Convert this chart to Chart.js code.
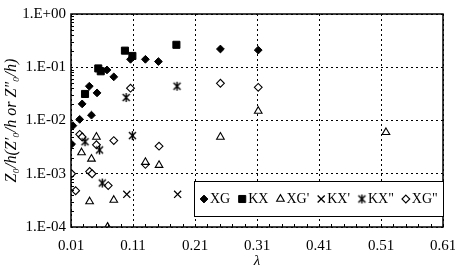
<!DOCTYPE html>
<html><head><meta charset="utf-8">
<script src="https://cdn.jsdelivr.net/npm/chart.js@4/dist/chart.umd.min.js"></script>
<style>html,body{margin:0;padding:0;background:#fff;}#wrap{width:455px;height:274px;}</style>
</head><body><div id="wrap"><canvas id="c" width="455" height="274"></canvas></div>
<script>
// ---- data ----
const xgX  = [0.011, 0.013, 0.024, 0.028, 0.0395, 0.043, 0.052, 0.068, 0.079, 0.106, 0.130, 0.151, 0.251, 0.312];
const xgY  = [3.6e-3, 8.0e-3, 1.05e-2, 2.05e-2, 4.4e-2, 1.26e-2, 3.3e-2, 8.9e-2, 6.6e-2, 0.141, 0.141, 0.128, 0.22, 0.21];
const kxX  = [0.0326, 0.054, 0.058, 0.097, 0.109, 0.180];
const kxY  = [3.15e-2, 9.5e-2, 8.4e-2, 0.205, 0.163, 0.264];
const xg1X = [0.027, 0.043, 0.051, 0.040, 0.079, 0.069, 0.130, 0.152, 0.251, 0.312, 0.518];
const xg1Y = [2.5e-3, 1.9e-3, 4.9e-3, 3.0e-4, 3.2e-4, 1.0e-4, 1.65e-3, 1.45e-3, 4.9e-3, 1.5e-2, 6.0e-3];
const kx1X = [0.100, 0.182];
const kx1Y = [4.1e-4, 4.1e-4];
const kx2X = [0.0326, 0.056, 0.0605, 0.099, 0.109, 0.181];
const kx2Y = [4.0e-3, 2.8e-3, 6.7e-4, 2.7e-2, 5.2e-3, 4.4e-2];
const xg2X = [0.011, 0.0175, 0.024, 0.028, 0.040, 0.044, 0.051, 0.070, 0.079, 0.106, 0.130, 0.152, 0.251, 0.312];
const xg2Y = [1.0e-3, 4.8e-4, 5.5e-3, 4.9e-3, 1.1e-3, 1.0e-3, 3.5e-3, 6.0e-4, 4.2e-3, 4.05e-2, 1.5e-3, 3.3e-3, 5.0e-2, 4.2e-2];
const seriesNames = ["XG", "KX", "XG'", "KX'", "KX\"", "XG\""];
const xTicks = [0.01, 0.11, 0.21, 0.31, 0.41, 0.51, 0.61];
const yTicks = [1e-4, 1e-3, 1e-2, 1e-1, 1];
const yTickLabels = ["1.E-04", "1.E-03", "1.E-02", "1.E-01", "1.E+00"];

const pts = (xs, ys) => xs.map((x, i) => ({x: x, y: ys[i]}));

// six-armed asterisk marker
function makeAsterisk(size) {
  const c = document.createElement('canvas');
  c.width = size; c.height = size;
  const g = c.getContext('2d');
  const m = size / 2, r = size / 2 - 1;
  g.strokeStyle = '#000'; g.lineWidth = 1.4;
  g.beginPath();
  g.moveTo(m, m - r); g.lineTo(m, m + r);
  const d = r * 0.78;
  g.moveTo(m - d, m - d); g.lineTo(m + d, m + d);
  g.moveTo(m + d, m - d); g.lineTo(m - d, m + d);
  g.stroke();
  return c;
}
const asterisk = makeAsterisk(11);

const SERIF = "'Liberation Serif', 'Times New Roman', serif";

const styles = [
  {pointStyle: 'rectRot', radius: 3.9, bg: '#000', bw: 1},
  {pointStyle: 'rect', radius: 5, bg: '#000', bw: 1},
  {pointStyle: 'triangle', radius: 4.4, bg: '#fff', bw: 1.1},
  {pointStyle: 'crossRot', radius: 5, bg: '#fff', bw: 1.3},
  {pointStyle: asterisk, radius: 5, bg: '#fff', bw: 1},
  {pointStyle: 'rectRot', radius: 3.9, bg: '#fff', bw: 1.1},
];
const dataSets = [pts(xgX, xgY), pts(kxX, kxY), pts(xg1X, xg1Y), pts(kx1X, kx1Y), pts(kx2X, kx2Y), pts(xg2X, xg2Y)];

const datasets = dataSets.map((d, i) => ({
  label: seriesNames[i], data: d,
  pointStyle: styles[i].pointStyle, pointRadius: styles[i].radius, pointHoverRadius: styles[i].radius,
  pointBackgroundColor: styles[i].bg, pointBorderColor: '#000', pointBorderWidth: styles[i].bw,
  showLine: false, clip: 0
}));

function drawMarker(ctx, i, x, y) {
  const s = styles[i];
  ctx.save();
  ctx.fillStyle = s.bg; ctx.strokeStyle = '#000'; ctx.lineWidth = s.bw;
  const r = s.radius;
  ctx.beginPath();
  if (i === 0 || i === 5) {
    ctx.moveTo(x, y - r); ctx.lineTo(x + r, y); ctx.lineTo(x, y + r); ctx.lineTo(x - r, y); ctx.closePath();
    ctx.fill(); ctx.stroke();
  } else if (i === 1) {
    const h = r * Math.SQRT1_2;
    ctx.rect(x - h, y - h, 2 * h, 2 * h); ctx.fill(); ctx.stroke();
  } else if (i === 2) {
    const w = r * Math.sin(Math.PI / 3), dy = r * 0.5;
    ctx.moveTo(x, y - r); ctx.lineTo(x + w, y + dy); ctx.lineTo(x - w, y + dy); ctx.closePath();
    ctx.fill(); ctx.stroke();
  } else if (i === 3) {
    const d = r * Math.SQRT1_2;
    ctx.moveTo(x - d, y - d); ctx.lineTo(x + d, y + d);
    ctx.moveTo(x + d, y - d); ctx.lineTo(x - d, y + d); ctx.stroke();
  } else {
    ctx.drawImage(asterisk, x - asterisk.width / 2, y - asterisk.height / 2);
  }
  ctx.restore();
}

const decor = {
  id: 'decor',
  afterDraw(chart) {
    const {ctx, chartArea: a, scales} = chart;
    const xs = scales.x, ys = scales.y;
    ctx.save();
    // minor ticks
    ctx.strokeStyle = '#000'; ctx.lineWidth = 1;
    ctx.beginPath();
    for (let k = 0; k <= 30; k++) {
      const v = 0.01 + k * 0.02;
      const px = Math.round(xs.getPixelForValue(v)) + 0.5;
      ctx.moveTo(px, a.bottom); ctx.lineTo(px, a.bottom - 3);
    }
    for (let d = -4; d < 0; d++) {
      for (let m = 2; m <= 9; m++) {
        const py = Math.round(ys.getPixelForValue(m * Math.pow(10, d))) + 0.5;
        ctx.moveTo(a.left, py); ctx.lineTo(a.left + 3, py);
      }
    }
    ctx.stroke();
    // frame
    ctx.lineWidth = 1.5;
    ctx.strokeRect(a.left, a.top, a.right - a.left, a.bottom - a.top);
    // legend
    const bx = 194, by = 181, bw = a.right - 194, bh = 35;
    ctx.fillStyle = '#fff';
    ctx.fillRect(bx, by, bw, bh);
    ctx.lineWidth = 1;
    ctx.strokeRect(bx + 0.5, by + 0.5, bw, bh);
    ctx.font = '14px ' + SERIF;
    ctx.textBaseline = 'middle';
    ctx.fillStyle = '#000';
    let cx = 204;
    const cy = by + bh / 2 + 0.5;
    seriesNames.forEach((n, i) => {
      drawMarker(ctx, i, cx, cy);
      ctx.fillStyle = '#000';
      ctx.fillText(n, cx + 6, cy);
      cx += 6 + ctx.measureText(n).width + 12;
    });
    ctx.restore();
  }
};

new Chart(document.getElementById('c'), {
  type: 'scatter',
  data: {datasets},
  options: {
    responsive: false, animation: false, devicePixelRatio: 1,
    layout: {padding: {top: 6, right: 12, left: 0, bottom: 0}},
    plugins: {legend: {display: false}, tooltip: {enabled: false}},
    scales: {
      x: {
        type: 'linear', min: 0.01, max: 0.61,
        afterBuildTicks: s => { s.ticks = xTicks.map(v => ({value: v})); },
        afterFit: s => { s.height = 47; s.paddingLeft = 0; s.paddingRight = 0; },
        ticks: {color: '#000', font: {family: SERIF, size: 15}, padding: 10, maxRotation: 0,
                callback: v => v.toFixed(2)},
        grid: {color: '#000', lineWidth: 1, drawTicks: false},
        border: {display: false, dash: [2, 3]},
        title: {display: true, text: 'λ', color: '#000', font: {family: SERIF, size: 15, style: 'italic'}, padding: {top: 0, bottom: 4}}
      },
      y: {
        type: 'logarithmic', min: 1e-4, max: 1,
        afterBuildTicks: s => { s.ticks = yTicks.map(v => ({value: v})); },
        afterFit: s => { s.width = 71; },
        ticks: {color: '#000', font: {family: SERIF, size: 15}, padding: 5,
                callback: (v, i) => yTickLabels[i]},
        grid: {color: '#000', lineWidth: 1, drawTicks: false},
        border: {display: false, dash: [2, 3]},
        title: {display: true, text: 'Z₀/h(Z′₀/h or Z″₀/h)', color: '#000', font: {family: SERIF, size: 16, style: 'italic'}, padding: {top: 2, bottom: 0}}
      }
    }
  },
  plugins: [decor]
});
</script>
</body></html>
